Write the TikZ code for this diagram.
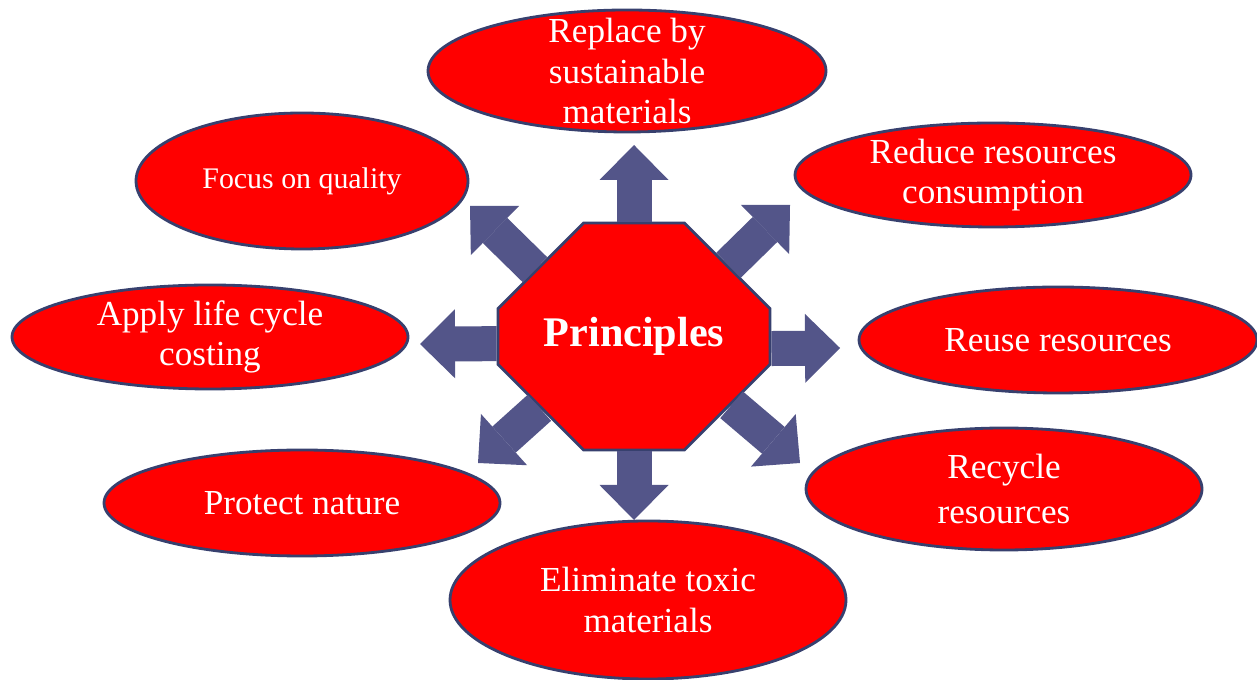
\documentclass[tikz,border=0pt]{standalone}
\usepackage{fontspec}
\setmainfont{Liberation Serif}
\usetikzlibrary{shapes.geometric,shapes.misc,arrows.meta}

\definecolor{blobF}{HTML}{FF0000}
\definecolor{blobE}{HTML}{37406E}
\definecolor{arrC}{HTML}{535589}

\begin{document}
\begin{tikzpicture}[
  blob/.style 2 args={ellipse, draw=blobE, fill=blobF, line width=0.8pt,
                      minimum width=#1, minimum height=#2, align=center,
                      inner xsep=0pt, inner ysep=-0.3cm, text=white,
                      font=\fontsize{10}{11.4}\selectfont},
  hub/.style={chamfered rectangle, draw=blobE, fill=blobF, line width=0.8pt,
              chamfered rectangle xsep=0.62cm, chamfered rectangle ysep=0.665cm,
              minimum width=2.72cm, minimum height=2.27cm, inner sep=0pt,
              text=white, font=\fontsize{12}{14}\selectfont\bfseries},
  push/.style={draw=arrC, line width=0.35cm,
               -{Triangle[width=0.69cm, length=0.35cm, line width=0pt 0 0]}},
]
\useasboundingbox (0,0) rectangle (12.57,6.79);

% centre and the eight principles
\node[hub] (core) at (6.34,3.425) {Principles};

\node[blob={3.98cm}{1.22cm}] (replace) at (6.27,6.08) {Replace by\\sustainable\\materials};
\node[blob={3.32cm}{1.36cm}, font=\fontsize{8.5}{10}\selectfont] (focus) at (3.02,4.98) {Focus on quality};
\node[blob={3.96cm}{1.04cm}] (reduce) at (9.93,5.04) {Reduce resources\\consumption};
\node[blob={3.96cm}{1.04cm}] (lcc) at (2.10,3.42) {Apply life cycle\\costing};
\node[blob={3.98cm}{1.06cm}] (reuse) at (10.58,3.39) {Reuse resources};
\node[blob={3.96cm}{1.06cm}] (nature) at (3.02,1.76) {Protect nature};
\node[blob={3.96cm}{1.22cm}] (recycle) at (10.04,1.90) {Recycle\\[0.05cm]resources};
\node[blob={3.96cm}{1.58cm}] (toxic) at (6.48,0.79) {Eliminate toxic\\materials};

% arrow tips, just short of each ellipse
\coordinate (toRepl) at (6.34,5.34);
\coordinate (toFocus) at (4.70,4.73);
\coordinate (toReduce) at (7.90,4.74);
\coordinate (toLcc) at (4.20,3.35);
\coordinate (toReuse) at (8.40,3.31);
\coordinate (toNature) at (4.78,2.16);
\coordinate (toRecycle) at (8.00,2.16);
\coordinate (toToxic) at (6.34,1.59);

\draw[push] (core.north) -- (toRepl);
\draw[push] (core.146) -- (toFocus);
\draw[push] (core.37) -- (toReduce);
\draw[push] (core.183) -- (toLcc);
\draw[push] (core.355) -- (toReuse);
\draw[push] (core.217) -- (toNature);
\draw[push] (core.325) -- (toRecycle);
\draw[push] (core.south) -- (toToxic);
\end{tikzpicture}
\end{document}
